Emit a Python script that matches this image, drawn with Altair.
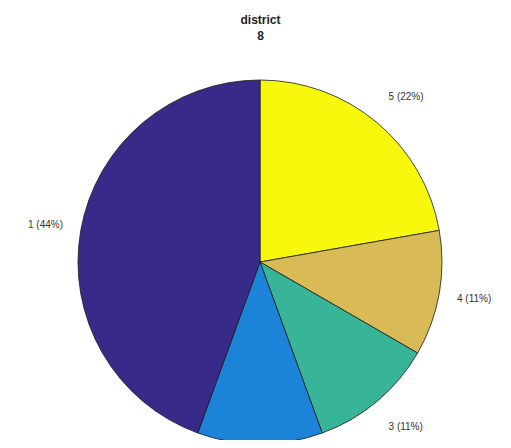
import altair as alt
import pandas as pd

categories = ["5", "4", "3", "2", "1"]
counts = [2, 1, 1, 1, 4]
percents = ["22%", "11%", "11%", "11%", "44%"]
colors = ["#f8f80c", "#d8bb57", "#38b498", "#1b84d9", "#382a89"]
order = [1, 2, 3, 4, 5]

df = pd.DataFrame({
    "district": categories,
    "count": counts,
    "pct": percents,
    "ord": order,
})
df["label"] = df["district"] + " (" + df["pct"] + ")"

W, H = 495, 382
CX, CY, R = 252, 204, 182

base = alt.Chart(df)

pie = base.mark_arc(
    radius=R, stroke="#1a1a1a", strokeWidth=0.8
).encode(
    theta=alt.Theta("count:Q", stack=True),
    color=alt.Color("district:N", scale=alt.Scale(domain=categories, range=colors), legend=None),
    order=alt.Order("ord:Q"),
    x=alt.value(CX),
    y=alt.value(CY),
)

total = sum(counts)
lab = base.transform_window(
    cum="sum(count)", sort=[alt.SortField("ord")], frame=[None, 0]
).transform_calculate(
    mid=f"2*PI*(datum.cum - datum.count/2)/{total}"
).transform_calculate(
    px=f"{CX} + 200*sin(datum.mid)",
    py=f"{CY} - 215*cos(datum.mid)",
    side="sin(datum.mid) >= 0.01 ? 'right' : 'left'",
).transform_filter(f"datum.py < {H}")  # the label below the pie lies outside the picture

common = dict(fontSize=10, font="Liberation Sans", color="#333333", baseline="middle")

lab_right = lab.transform_filter("datum.side == 'right'").mark_text(align="left", **common).encode(
    x=alt.X("px:Q", scale=None), y=alt.Y("py:Q", scale=None), text="label:N"
)
lab_left = lab.transform_filter("datum.side == 'left'").mark_text(align="right", **common).encode(
    x=alt.X("px:Q", scale=None), y=alt.Y("py:Q", scale=None), text="label:N"
)

chart = alt.layer(pie, lab_right, lab_left).properties(
    width=W,
    height=H,
    padding={"left": 0, "top": 50, "right": 0, "bottom": 0},
    autosize=alt.AutoSizeParams(type="none"),
    title=alt.Title(
        ["district", "8"],
        fontSize=12,
        fontWeight="bold",
        font="Liberation Sans",
        color="#222222",
        anchor="middle",
        dx=5,
        offset=15,
        lineHeight=16,
    ),
).configure_view(stroke=None)

chart.save("out.html", embed_options={"renderer": "svg", "actions": False})
